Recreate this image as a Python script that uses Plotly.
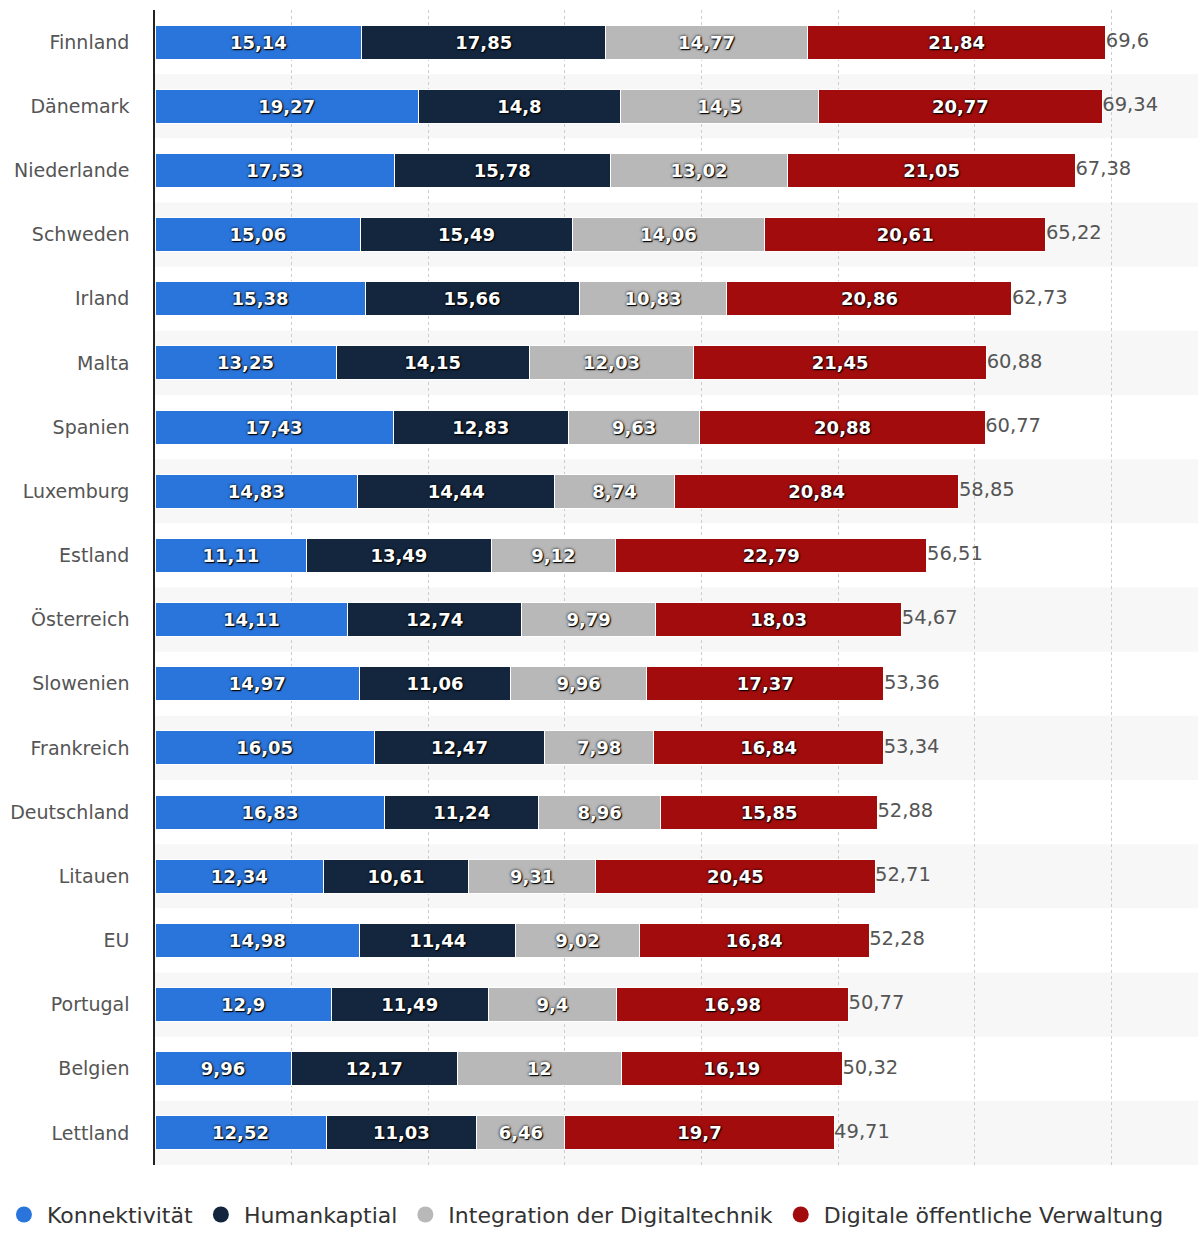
import plotly.graph_objects as go

countries = ["Finnland", "Dänemark", "Niederlande", "Schweden", "Irland", "Malta", "Spanien",
             "Luxemburg", "Estland", "Österreich", "Slowenien", "Frankreich", "Deutschland",
             "Litauen", "EU", "Portugal", "Belgien", "Lettland"]
konnektivitaet = [15.14, 19.27, 17.53, 15.06, 15.38, 13.25, 17.43, 14.83, 11.11, 14.11, 14.97,
                  16.05, 16.83, 12.34, 14.98, 12.9, 9.96, 12.52]
humankapital = [17.85, 14.8, 15.78, 15.49, 15.66, 14.15, 12.83, 14.44, 13.49, 12.74, 11.06,
                12.47, 11.24, 10.61, 11.44, 11.49, 12.17, 11.03]
integration = [14.77, 14.5, 13.02, 14.06, 10.83, 12.03, 9.63, 8.74, 9.12, 9.79, 9.96,
               7.98, 8.96, 9.31, 9.02, 9.4, 12, 6.46]
verwaltung = [21.84, 20.77, 21.05, 20.61, 20.86, 21.45, 20.88, 20.84, 22.79, 18.03, 17.37,
              16.84, 15.85, 20.45, 16.84, 16.98, 16.19, 19.7]
series_names = ["Konnektivität", "Humankaptial", "Integration der Digitaltechnik",
                "Digitale öffentliche Verwaltung"]
colors = ["#2a75dc", "#13263d", "#b8b8b8", "#a30c0c"]


def fmt(v):
    s = f"{v:.2f}".rstrip("0").rstrip(".")
    return s.replace(".", ",")


fig = go.Figure()
all_series = [konnektivitaet, humankapital, integration, verwaltung]
for name, vals, col in zip(series_names, all_series, colors):
    fig.add_trace(go.Bar(
        y=countries, x=vals, orientation="h", name=name,
        marker=dict(color=col, line=dict(color="white", width=1)),
        text=[fmt(v) for v in vals], textposition="inside", insidetextanchor="middle",
        textangle=0, constraintext="none",
        textfont=dict(family="DejaVu Sans", size=18, color="white", weight="bold",
                      shadow="0px 0px 3px #000, 1px 1px 1px #000"),
        showlegend=False, hoverinfo="skip",
    ))

totals = [round(a + b + c + d, 2) for a, b, c, d in zip(*all_series)]
fig.add_trace(go.Scatter(
    y=countries, x=totals, mode="text", text=[fmt(t) for t in totals],
    textposition="middle right",
    textfont=dict(family="DejaVu Sans", size=19.5, color="#555555"),
    showlegend=False, hoverinfo="skip", cliponaxis=False,
))

for name, col in zip(series_names, colors):
    fig.add_trace(go.Scatter(
        x=[None], y=[None], mode="markers", name=name,
        marker=dict(symbol="circle", size=22, color=col),
    ))

shapes = []
for i in range(len(countries)):
    if i % 2 == 1:
        shapes.append(dict(type="rect", xref="paper", yref="y", x0=0, x1=1,
                           y0=i - 0.5, y1=i + 0.5, fillcolor="#f7f7f7",
                           line=dict(width=0), layer="below"))

fig.update_layout(
    width=1198, height=1236,
    margin=dict(l=155, r=0, t=10, b=71),
    barmode="stack", bargap=0.47,
    plot_bgcolor="white", paper_bgcolor="white",
    separators=",.",
    shapes=shapes,
    font=dict(family="DejaVu Sans", color="#555555"),
    legend=dict(orientation="h", x=-0.1477, xanchor="left", y=-0.0612, yanchor="bottom",
                font=dict(family="DejaVu Sans", size=22, color="#333333"),
                itemwidth=36, tracegroupgap=0, traceorder="normal"),
)
fig.update_xaxes(range=[0, 76.35], showticklabels=False, showgrid=True,
                 gridcolor="#cccccc", griddash="dot", gridwidth=1,
                 dtick=10, zeroline=False, showline=False, fixedrange=True)
fig.update_yaxes(range=[len(countries) - 0.5, -0.5], autorange=False,
                 showline=True, linecolor="#222222", linewidth=1.5,
                 showgrid=False, ticks="", ticklabelstandoff=20,
                 tickfont=dict(family="DejaVu Sans", size=19, color="#555555"))

fig.write_html("out.html", config={"displayModeBar": False},
               post_script="document.body.style.margin='0';")
